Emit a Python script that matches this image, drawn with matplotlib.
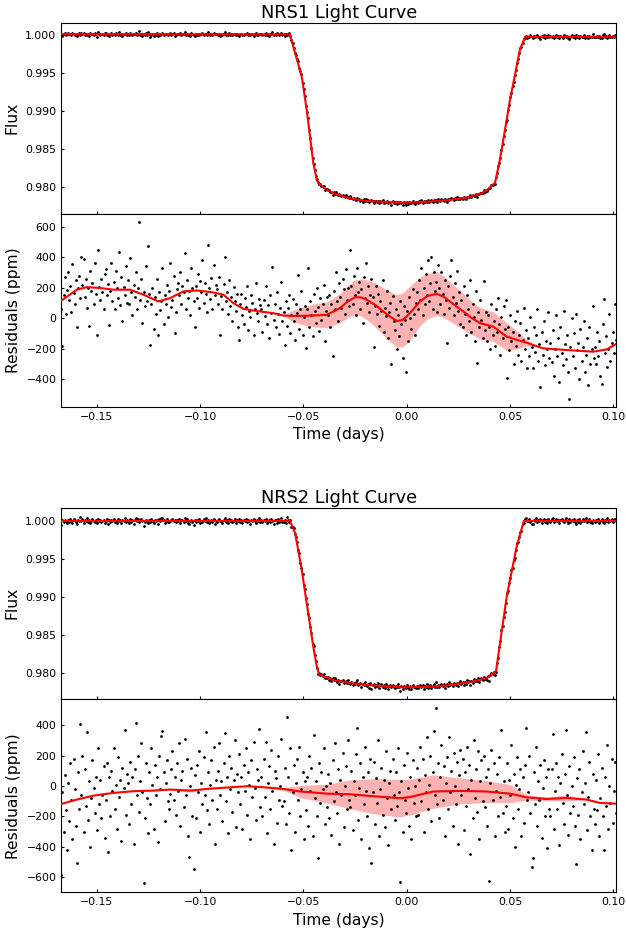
import numpy as np
import matplotlib
matplotlib.use("Agg")
import matplotlib.pyplot as plt

# time span of the observations (days from mid-transit)
t_start, t_end = -0.1672, 0.1013

# ---- NRS1 ----
# full model knots (time, flux)
nrs1_model_t = [-0.1672, -0.0565, -0.0549, -0.0508, -0.0484, -0.0452, -0.0435, -0.0430,
                -0.0400, -0.0355, -0.0310, -0.0274, -0.0194, -0.0032, 0.0060, 0.0129,
                0.0210, 0.0290, 0.0355, 0.0390, 0.0419, 0.0427, 0.0451, 0.0500, 0.0548,
                0.0573, 0.1013]
nrs1_model_f = [1.00010, 1.00005, 0.99846, 0.99451, 0.99013, 0.98312, 0.98092, 0.98060,
                0.97985, 0.97917, 0.97880, 0.97851, 0.97816, 0.97793, 0.97800, 0.97812,
                0.97830, 0.97859, 0.97908, 0.97960, 0.98036, 0.98050, 0.98355, 0.99145, 0.99803,
                0.99975, 0.99975]

# residuals (ppm), in time order
nrs1_resid = [
    60, -180, 150, 270, 30, 185, 305, 120, 210, 40, 355, 165, 95, 250, -60, 200, 280, 130, 400, 215,
    390, 140, 255, 70, 200, -50, 310, 180, 230, 95, 360, 160, -110, 450, 205, 120, 260, 175, 60, 290,
    320, 150, 225, -45, 180, 365, 110, 240, 60, 310, 195, 130, 435, 85, 270, -20, 205, 150, 345, 100,
    250, 90, 395, 175, 20, 215, 140, 300, 60, 195, 630, 120, 255, -30, 170, 80, 340, 110, 475, 160,
    -175, 90, 200, -70, 140, 30, 260, -110, 170, 55, 115, 330, -40, 150, 95, 220, 10, 180, 360, 75,
    120, 280, -100, 40, 190, 230, 150, 300, 95, 210, 170, 430, 60, 250, 135, 180, 20, 330, 200, 110,
    -55, 210, 135, 290, 70, 245, 175, 380, 100, 230, 160, 40, 480, 195, 125, 265, 60, 350, 150, 215,
    190, 95, 270, -110, 145, 60, 225, 400, 110, 170, 30, 250, 80, 140, -20, 205, 115, 45, 160, -60,
    -145, 90, 160, 20, -40, 130, 75, 210, -80, 50, 10, 155, 100, -110, 60, 230, 35, -20, 125, 85,
    60, -90, 120, 15, 210, -40, 85, -130, 150, 35, 335, -10, 90, -60, 170, 25, -105, 70, 240, -20,
    40, -176, 110, -50, 70, 150, -95, 20, 125, -20, -140, 95, 35, 285, -70, 60, 180, -110, 10, 80,
    -198, 60, 330, -60, 110, 20, -120, 160, 45, -30, 200, 75, -85, 130, -10, 95, 215, -150, 50, 140,
    20, 150, -60, 90, -247, 180, 60, 300, 110, -20, 230, 140, 70, 260, 190, 25, 320, 120, 200, 80,
    446, 210, 90, 280, 150, 20, 330, 170, 240, 60, 190, -30, 270, 130, 360, 100, 210, 40, 150, 255,
    140, -187, 80, 210, 30, 160, -50, 110, 50, 250, -90, 70, 15, 180, -130, 40, 100, -303, 145, -20,
    -80, 60, -200, 20, -120, 110, -40, -260, 80, -10, -356, 50, -150, 140, 0, -70, 190, 30, -110, 100,
    170, 60, 250, 120, 330, 20, 200, 90, 290, 150, 380, 110, 230, 400, 60, 300, 180, 240, 40, 350,
    200, 90, 300, 160, 30, 250, 120, -165, 210, 70, 280, 385, 140, 20, 230, 100, 310, 50, 175, -40,
    120, -60, 210, 30, -110, 150, 60, -20, 250, -90, 90, 10, -150, 180, -297, 40, -60, 120, -10, -130,
    241, -80, 40, -150, 20, -60, -200, 90, -110, -20, -180, 60, -90, 130, -40, -240, 10, -130, 80, -70,
    120, -392, -60, -210, 20, -150, -90, -300, -20, -180, 50, -240, -110, -30, -280, -140, 70, -200, -80, -330,
    -130, -250, 10, -190, -330, -60, -220, -110, 60, -280, -170, -451, -90, -240, -20, -310, -150, -200, 40, -260,
    -160, -290, -80, -380, -200, 20, -250, -130, -420, -60, -230, -310, 50, -170, -270, -110, -350, -528, -190, 0,
    -250, -100, -330, 30, -210, -160, -400, -70, -280, -190, -20, -350, -240, -130, -440, -60, -300, -200, 80, -260,
    -190, -300, -90, -250, -150, -380, -429, -40, 125, -230, -120, -320, -200, 30, -280, -160, -90, -230, 90, -140,
]

# GP trend in residuals (ppm) and its 1-sigma half width
nrs1_gp_t = [-0.1672, -0.1597, -0.1548, -0.1484, -0.1419, -0.1339, -0.1274, -0.1202, -0.1145,
             -0.1081, -0.1016, -0.0936, -0.0887, -0.0839, -0.0790, -0.0710, -0.0645, -0.0600,
             -0.0560, -0.0516, -0.0450, -0.0387, -0.0323, -0.0290, -0.0250, -0.0220, -0.0194,
             -0.0150, -0.0113, -0.0080, -0.0048, -0.0020, 0.0000, 0.0030, 0.0064, 0.0100,
             0.0145, 0.0180, 0.0209, 0.0240, 0.0274, 0.0310, 0.0355, 0.0419, 0.0484, 0.0540,
             0.0581, 0.0620, 0.0661, 0.0774, 0.0903, 0.0968, 0.1013]
nrs1_gp = [115, 187, 204, 198, 187, 187, 154, 110, 132,
           176, 182, 169, 154, 99, 61, 44, 33, 18,
           15, 15, 18, 22, 66, 105, 138, 136, 121,
           85, 44, 10, -18, -12, 11, 55, 110, 145,
           160, 140, 110, 78, 44, 5, -33, -55, -121, -145,
           -161, -180, -198, -209, -220, -205, -170]
nrs1_gp_err = [0, 0, 0, 0, 0, 0, 0, 0, 0,
               0, 0, 0, 0, 0, 0, 0, 0, 0,
               30, 55, 75, 85, 95, 105, 114, 122, 130,
               145, 155, 165, 172, 177, 180, 172, 160, 150,
               143, 136, 130, 124, 118, 110, 104, 97, 90, 55,
               20, 0, 0, 0, 0, 0, 0]

# ---- NRS2 ----
nrs2_model_t = [-0.1672, -0.0565, -0.0540, -0.0508, -0.0484, -0.0452, -0.0435, -0.0423,
                -0.0355, -0.0270, -0.0194, -0.0016, 0.0129, 0.0210, 0.0290, 0.0387, 0.0432,
                0.0484, 0.0532, 0.0567, 0.1013]
nrs2_model_f = [1.00000, 1.00000, 0.99838, 0.99354, 0.98915, 0.98342, 0.98078, 0.97975,
                0.97903, 0.97863, 0.97837, 0.97807, 0.97815, 0.97838, 0.97868, 0.97926, 0.98013,
                0.99002, 0.99661, 1.00000, 1.00000]

nrs2_resid = [
    -585, -40, -300, 70, -160, -420, 20, -230, 150, -90, -350, 180, -20, -260, -508, 90, -150, 410, -60, 200,
    -300, 110, -130, 358, -220, 30, -400, -80, 170, -10, -180, 60, -290, 250, -120, 40, -210, -60, 130, -340,
    -90, 150, -431, 60, -200, 100, -30, 250, -150, 10, -280, 190, -70, 40, -360, 120, -10, 370, -190, 80,
    20, -250, 160, -120, 60, -380, 110, 413, -60, 200, -170, 30, 280, -40, -640, -210, 150, -80, -310, 90,
    -120, 250, 10, -280, 140, -60, 60, -370, 200, -20, 330, 360, 90, -230, 20, 170, -100, -150, -50, 110,
    230, -90, 60, -190, 150, -30, 280, -260, 40, 100, -140, 310, -60, 180, -330, -464, 0, 120, -200, -545,
    70, -210, 140, -40, 230, -300, 20, -120, 190, -60, 355, -160, 90, -250, 10, 170, -90, 260, -380, 40,
    -150, 100, 280, -60, 30, -230, 150, 350, -100, 60, -310, 200, -20, 120, -170, 40, 300, -270, 80, -40,
    210, -120, 60, -280, 140, -30, 250, -190, 90, 10, -350, 170, -70, 290, -10, -220, 110, 40, 373, -140,
    60, -200, 180, -70, 290, -310, 20, 130, -150, 240, -30, -380, 100, 50, -240, 200, -90, 0, 310, -130,
    -100, 120, -250, 451, 60, -180, 250, -420, -40, 140, -300, 20, 180, -90, 260, -200, -20, 90, -350, 30,
    -160, 60, -260, 200, -30, 120, -330, 334, -80, 30, -200, -475, 150, -110, 90, -20, 250, -250, 0, -140,
    80, -210, 20, -320, 170, -100, 280, -40, -180, 110, -380, 40, -60, 220, -270, 0, 130, -150, 300, -90,
    -140, 100, -290, 30, -60, 210, 385, -220, -10, 150, -350, 60, -120, 260, -30, -200, 90, -410, 180, -508,
    -40, 160, -250, 50, -110, 300, -330, -20, 120, -190, 40, -270, 230, -80, -390, 20, 100, -150, 180, -60,
    -220, 90, -130, 250, -40, -633, 30, -300, 140, -90, -180, 220, -10, -260, 60, -350, 170, -110, 0, -200,
    120, -190, 40, 260, -100, 180, -300, 70, -40, 320, -150, 10, 200, -230, 90, 360, -60, 512, -120, 150,
    -210, 60, 270, -90, 130, -330, 20, 190, -150, 320, -40, 100, -260, 220, 0, -120, 160, -380, 70, 240,
    -60, 180, -290, 90, -130, 260, -20, 140, -450, 40, -210, 300, -80, 110, -170, 230, -350, 30, 170, -100,
    200, -140, 60, -260, 110, -622, 20, 240, -90, 150, -330, -30, 80, -200, 190, -70, 369, -180, 30, -300,
    -130, 150, -280, 40, -60, 270, -210, 80, -400, 10, 190, -150, -20, 110, -330, 60, -240, 140, 380, -90,
    -40, 200, -180, -530, -476, 90, -120, 260, -260, 30, -90, 140, -340, -10, 170, -200, 60, -410, 110, -150,
    -200, 110, 340, -280, -30, 150, -150, 60, -390, 20, 210, -110, -250, 80, 368, -60, -320, 130, -180, 0,
    -130, 190, -260, -510, 50, -190, 110, -350, -40, 230, -120, 20, 358, -290, -70, 160, -200, -420, 80, -150,
    -250, 40, -160, 210, -330, -80, 120, -200, -420, 60, -130, 270, -280, 0, -110, 180, -240, -30, 160, -180,
]

nrs2_gp_t = [-0.1672, -0.1597, -0.1516, -0.1419, -0.1323, -0.1226, -0.1145, -0.1048, -0.0968,
             -0.0871, -0.0773, -0.0694, -0.0596, -0.0516, -0.0427, -0.0387, -0.0274, -0.0162,
             -0.0032, 0.0016, 0.0129, 0.0258, 0.0387, 0.0500, 0.0581, 0.0677, 0.0774, 0.0871,
             0.0935, 0.1013]
nrs2_gp = [-118, -89, -63, -45, -34, -30, -23, -30, -19,
           -10, -1, -8, -19, -36, -45, -50, -54, -67,
           -80, -72, -36, -32, -36, -50, -74, -85, -78, -89,
           -111, -116]
nrs2_gp_err = [0, 0, 0, 0, 0, 0, 0, 12, 0,
               0, 0, 0, 8, 40, 55, 62, 95, 115,
               123, 118, 110, 85, 72, 60, 18, 12, 20, 0,
               0, 0]

panels = [
    ("NRS1", nrs1_model_t, nrs1_model_f, nrs1_resid, nrs1_gp_t, nrs1_gp, nrs1_gp_err,
     (0.97645, 1.0016), (-581, 684)),
    ("NRS2", nrs2_model_t, nrs2_model_f, nrs2_resid, nrs2_gp_t, nrs2_gp, nrs2_gp_err,
     (0.97653, 1.00175), (-699, 572)),
]

# axes rectangles [left, bottom, width, height] (flux, residuals)
boxes = [
    ([0.0979, 0.7699, 0.8861, 0.2057], [0.0979, 0.5627, 0.8861, 0.2072]),
    ([0.0979, 0.2484, 0.8861, 0.2057], [0.0979, 0.0405, 0.8861, 0.2078]),
]

fig = plt.figure(figsize=(6.26, 9.3), dpi=100)

for (name, mt, mf, resid, gt, gp, gerr, flim, rlim), (fbox, rbox) in zip(panels, boxes):
    resid = np.array(resid, dtype=float)
    gt = np.array(gt)
    gp = np.array(gp, dtype=float)
    gerr = np.array(gerr, dtype=float)
    t = np.linspace(t_start, t_end, len(resid))
    # flux points scatter around the full model by the GP-detrended residuals
    flux = np.interp(t, mt, mf) + (resid - np.interp(t, gt, gp)) * 1e-6

    axf = fig.add_axes(fbox)
    axf.scatter(t, flux, s=4, c='k', lw=0, zorder=2)
    axf.plot(mt, mf, color='red', lw=1.5, zorder=3)
    axf.set_xlim(t_start, t_end)
    axf.set_ylim(*flim)
    axf.set_ylabel("Flux", fontsize=11.2)
    axf.set_title(f"{name} Light Curve", fontsize=12.8, pad=3.5)
    axf.ticklabel_format(axis='y', useOffset=False)
    axf.tick_params(direction='in', length=2.5, labelsize=7.8, labelbottom=False)

    axr = fig.add_axes(rbox)
    axr.scatter(t, resid, s=4, c='k', lw=0, zorder=2)
    axr.fill_between(gt, gp - gerr, gp + gerr, color='red', alpha=0.3, lw=0, zorder=1)
    axr.plot(gt, gp, color='red', lw=1.5, zorder=3)
    axr.set_xlim(t_start, t_end)
    axr.set_ylim(*rlim)
    axr.set_ylabel("Residuals (ppm)", fontsize=11.2)
    axr.set_xlabel("Time (days)", fontsize=11.2)
    axr.tick_params(direction='in', length=2.5, labelsize=7.8)

fig.savefig("out.png", dpi=100)
